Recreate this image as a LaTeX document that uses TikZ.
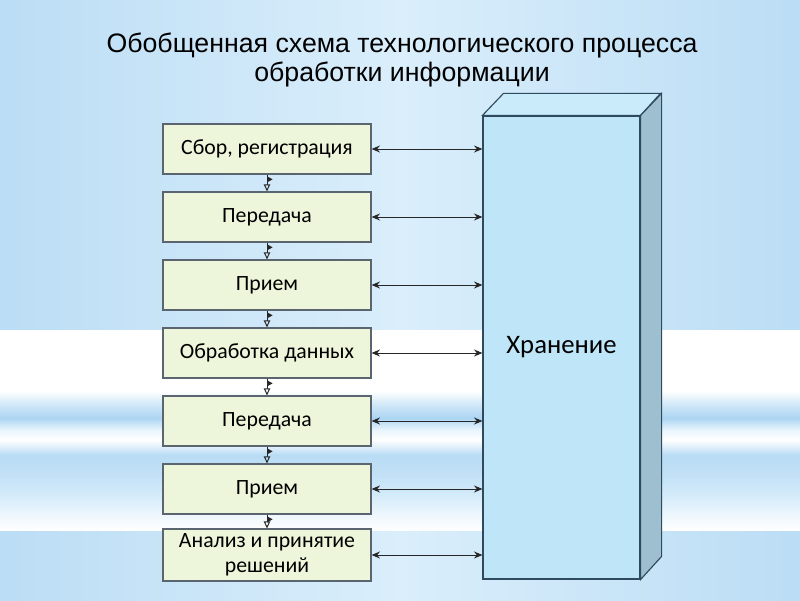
\documentclass[tikz,border=0pt]{standalone}
\usepackage{fontspec}
\setmainfont{Liberation Sans}
\newfontfamily\boxfont{Carlito}
\usetikzlibrary{arrows.meta}

\definecolor{boxgreen}{HTML}{EDF5DA}
\definecolor{boxline}{HTML}{5B6570}
\definecolor{storefront}{HTML}{BEE6F8}
\definecolor{storeside}{HTML}{9DBFCF}
\definecolor{storetop}{HTML}{C9EBFA}
\definecolor{storeline}{HTML}{2E4A5C}
\definecolor{bgblue}{HTML}{BBDDF5}
\definecolor{bglight}{HTML}{DAEEFB}
\definecolor{bgA}{HTML}{CFE7F8}
\definecolor{bgB}{HTML}{ACD5F2}
\definecolor{bgC}{HTML}{E9F5FD}
\definecolor{bgD}{HTML}{B9DCF5}
\definecolor{bgE}{HTML}{C2E1F6}
\definecolor{bgF}{HTML}{D4EBFA}
\definecolor{bgG}{HTML}{EEF7FD}

\tikzset{
    stage/.style={draw=boxline, line width=0.8pt, fill=boxgreen, minimum width=5.2cm,
        minimum height=1.25cm, align=center, font=\boxfont\fontsize{15.5}{17.8}\selectfont},
    store/.style={draw=storeline, line width=0.8pt, fill=storefront, minimum width=3.925cm,
        minimum height=11.575cm, font=\boxfont\fontsize{19}{22}\selectfont},
    link/.style={draw=black!85, line width=0.7pt,
        {Stealth[length=6pt,width=5pt]}-{Stealth[length=6pt,width=5pt]}},
    flow/.style={draw=black!85, line width=0.7pt, -{Triangle[open,length=5pt,width=4.5pt]}},
}

\begin{document}
\begin{tikzpicture}
        % background
        \shade[left color=bgblue, right color=bgblue, middle color=bglight] (0, 6.75) rectangle (20, 15);
        \fill[white] (0, 5.225) rectangle (20, 6.75);
        \foreach \ya/\ca/\yb/\cb in {5.225/white/4.875/bgA, 4.875/bgA/4.55/bgB, 4.55/bgB/4.25/bgC,
                4.25/bgC/4.0/white, 4.0/white/3.625/bgD, 3.625/bgD/3.125/bgE, 3.125/bgE/2.625/bgF,
                2.625/bgF/2.125/bgG, 2.125/bgG/1.725/white}
            \shade[top color=\ca, bottom color=\cb] (0, \yb) rectangle (20, \ya);
        \shade[left color=bgblue, right color=bgblue, middle color=bglight] (0, 0) rectangle (20, 1.725);

        % title
        \node[align=center, font=\fontsize{19}{21.3}\selectfont] (title) at (10.05, 13.5)
            {Обобщенная схема технологического процесса\\обработки информации};

        % stages
        \node[stage] (s1) at (6.675, 11.275) {Сбор, регистрация};
        \node[stage] (s2) at (6.675, 9.575) {Передача};
        \node[stage] (s3) at (6.675, 7.875) {Прием};
        \node[stage] (s4) at (6.675, 6.175) {Обработка данных};
        \node[stage] (s5) at (6.675, 4.475) {Передача};
        \node[stage] (s6) at (6.675, 2.775) {Прием};
        \node[stage] (s7) at (6.675, 1.125) {Анализ и принятие\\решений};

        % storage block
        \node[store] (store) at (14.0375, 6.3125) {\raisebox{-3.5pt}{Хранение}};
        \draw[draw=storeline, line width=0.8pt, fill=storetop] (store.north west) -- ++(0.525, 0.55)
            -- ++(3.925, 0) -- (store.north east) -- cycle;
        \draw[draw=storeline, line width=0.8pt, fill=storeside] (store.north east) -- ++(0.525, 0.55)
            -- ++(0, -11.575) -- (store.south east) -- cycle;

        % connectors
        \foreach \i in {1,...,7}
            \draw[link] (s\i.east) -- (s\i.east -| store.west);
        \foreach \i/\j in {1/2, 2/3, 3/4, 4/5, 5/6, 6/7} {
            \draw[flow] (s\i.south) -- (s\j.north);
            \fill[black!85] ([yshift=-1.2pt]s\i.south) -- ++(4pt, -2.2pt) -- ++(-4pt, -2.2pt) -- cycle;
        }
    \end{tikzpicture}
\end{document}
